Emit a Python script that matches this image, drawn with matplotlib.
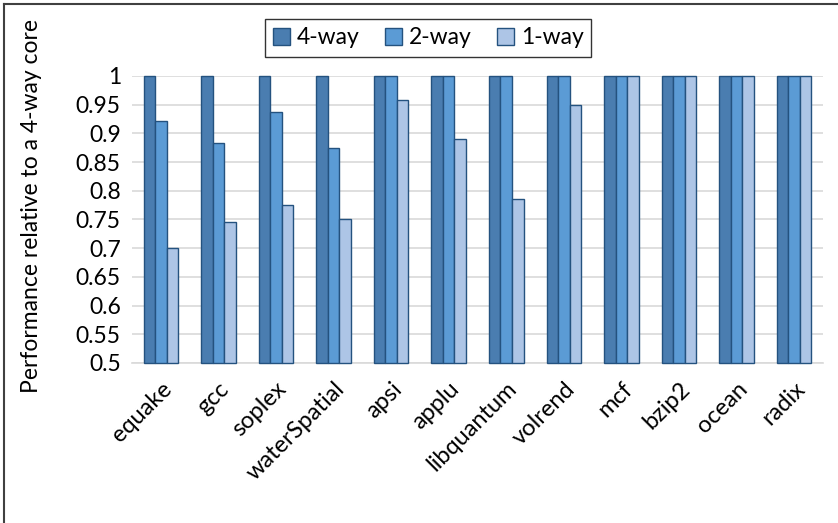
import matplotlib
matplotlib.use("Agg")
import matplotlib.pyplot as plt
import numpy as np

plt.rcParams["font.family"] = ["Lato", "DejaVu Sans"]

BENCHMARKS = ["equake", "gcc", "soplex", "waterSpatial", "apsi", "applu",
              "libquantum", "volrend", "mcf", "bzip2", "ocean", "radix"]
WAY4 = [1, 1, 1, 1, 1, 1, 1, 1, 1, 1, 1, 1]
WAY2 = [0.922, 0.884, 0.937, 0.875, 1, 1, 1, 1, 1, 1, 1, 1]
WAY1 = [0.70, 0.745, 0.776, 0.75, 0.958, 0.891, 0.785, 0.95, 1, 1, 1, 1]
SERIES = ["4-way", "2-way", "1-way"]
Y_TICKS = [0.5, 0.55, 0.6, 0.65, 0.7, 0.75, 0.8, 0.85, 0.9, 0.95, 1]

COLORS = ["#4a7db0", "#5b9bd5", "#adc5e6"]
EDGE = "#24527f"
GRID = "#d9d9d9"
FS = 16.5

fig = plt.figure(figsize=(8.38, 5.23), dpi=100)
ax = fig.add_axes([0.1575, 0.306, 0.8245, 0.5487])

x = np.arange(len(BENCHMARKS))
w = 0.2
for i, (vals, name) in enumerate(zip([WAY4, WAY2, WAY1], SERIES)):
    v = np.array(vals)
    ax.bar(x + (i - 1) * w, v - 0.5, bottom=0.5, width=w, color=COLORS[i],
           edgecolor=EDGE, linewidth=1.0, label=name, clip_on=False, zorder=3)

ax.set_xlim(-0.5, len(BENCHMARKS) - 0.5)
ax.set_ylim(0.5, 1.0)
ax.set_yticks(Y_TICKS)
ax.set_yticklabels([f"{t:g}" for t in Y_TICKS], fontsize=FS)
ax.yaxis.grid(True, color=GRID, linewidth=1.2, zorder=0)
ax.set_axisbelow(True)
ax.tick_params(axis="y", length=0, pad=8)
ax.tick_params(axis="x", length=0, pad=11)
ax.set_xticks(x)
ax.set_xticklabels(BENCHMARKS, rotation=45, ha="right", rotation_mode="anchor",
                   fontsize=17)
for s in ["top", "right", "left"]:
    ax.spines[s].set_visible(False)
ax.spines["bottom"].set_color(GRID)
ax.spines["bottom"].set_linewidth(1.2)

ax.set_ylabel("Performance relative to a 4-way core", fontsize=FS)
ax.yaxis.set_label_coords(-0.13, 0.547)

leg = fig.legend(loc="center", bbox_to_anchor=(428 / 838, 1 - 38 / 523), ncol=3,
                 fontsize=FS, frameon=True, fancybox=False, handlelength=0.75,
                 handleheight=0.75, handletextpad=0.3, columnspacing=1.1,
                 borderpad=0.35)
leg.get_frame().set_edgecolor("black")
leg.get_frame().set_linewidth(1.0)

# outer chart border (left and top edges visible)
fig.add_artist(plt.Line2D([4 / 838, 4 / 838], [0, 1 - 4 / 523], color="#404040",
                          linewidth=1.5, transform=fig.transFigure))
fig.add_artist(plt.Line2D([4 / 838, 1], [1 - 4 / 523, 1 - 4 / 523], color="#404040",
                          linewidth=1.5, transform=fig.transFigure))

fig.savefig("out.png", dpi=100)
